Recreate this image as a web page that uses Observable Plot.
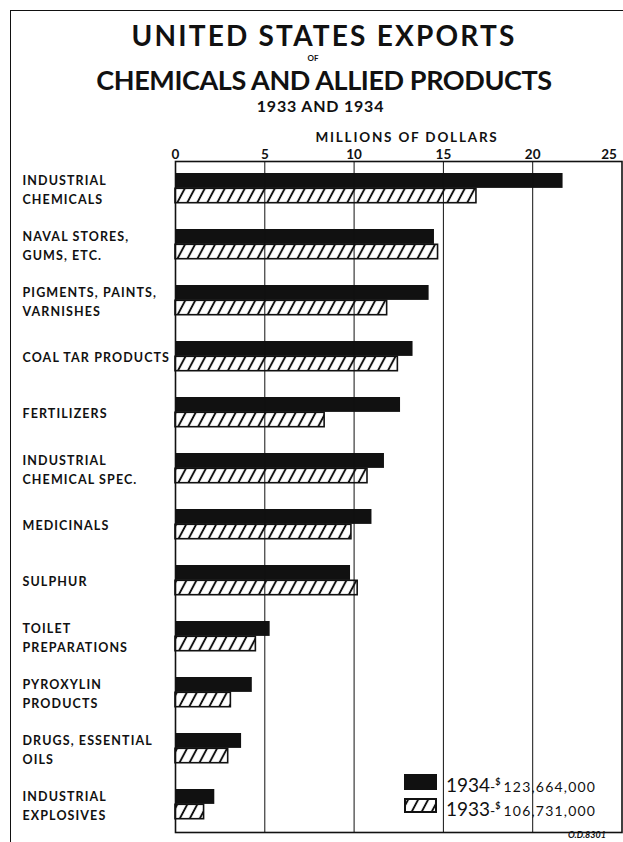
<!DOCTYPE html>
<html><head><meta charset="utf-8">
<script src="https://cdn.jsdelivr.net/npm/d3@7"></script>
<script src="https://cdn.jsdelivr.net/npm/@observablehq/plot@0.6"></script>
<style>
body{margin:0;background:#fff;}
#wrap{position:relative;width:623px;height:842px;overflow:hidden;font-family:Lato,"DejaVu Sans",sans-serif;font-weight:700;color:#111;background:#fff;}
.t{position:absolute;text-align:center;white-space:nowrap;}
#chart{position:absolute;left:0;top:0;}
.leg{position:absolute;white-space:nowrap;}
</style></head><body>
<div id="wrap">
  <div style="position:absolute;left:10px;top:10px;width:800px;height:900px;border-left:1.5px solid #111;border-top:1.5px solid #111;"></div>
  <div id="chart"></div>
  <div class="t" id="t1" style="left:0;width:648px;top:21px;font-size:28px;line-height:28px;letter-spacing:2.2px;">UNITED STATES EXPORTS</div>
  <div class="t" id="t0" style="left:263px;width:100px;top:54px;font-size:8px;line-height:8px;">OF</div>
  <div class="t" id="t2" style="left:0;width:648px;top:66px;font-size:27px;line-height:27px;letter-spacing:-0.4px;">CHEMICALS AND ALLIED PRODUCTS</div>
  <div class="t" id="t3" style="left:0;width:641px;top:98px;font-size:16px;line-height:16px;letter-spacing:0.8px;">1933 AND 1934</div>
  <div class="t" id="xl" style="left:257px;width:300px;top:131px;font-size:13.5px;line-height:13.5px;letter-spacing:1.8px;">MILLIONS OF DOLLARS</div>
  <div id="legend"></div>
  <div class="leg" style="left:568px;top:830px;font-size:9px;line-height:10px;font-style:italic;">O.D.8301</div>
</div>
<script>
const categories = [
  "INDUSTRIAL\nCHEMICALS",
  "NAVAL STORES,\nGUMS, ETC.",
  "PIGMENTS, PAINTS,\nVARNISHES",
  "COAL TAR PRODUCTS",
  "FERTILIZERS",
  "INDUSTRIAL\nCHEMICAL SPEC.",
  "MEDICINALS",
  "SULPHUR",
  "TOILET\nPREPARATIONS",
  "PYROXYLIN\nPRODUCTS",
  "DRUGS, ESSENTIAL\nOILS",
  "INDUSTRIAL\nEXPLOSIVES"
];
const values1934 = [21.7, 14.5, 14.2, 13.3, 12.6, 11.7, 11.0, 9.8, 5.3, 4.3, 3.7, 2.2];
const values1933 = [16.85, 14.7, 11.85, 12.45, 8.35, 10.75, 9.85, 10.2, 4.5, 3.1, 2.95, 1.6];
const xTicks = [0, 5, 10, 15, 20, 25];
const legendLabels = [
  {year: "1934", total: "123,664,000"},
  {year: "1933", total: "106,731,000"}
];

const d34 = categories.map((c, i) => ({category: c, value: values1934[i]}));
const d33 = categories.map((c, i) => ({category: c, value: values1933[i]}));

const ink = "#111";
const plot = Plot.plot({
  width: 623,
  height: 842,
  marginLeft: 175,
  marginRight: 1.5,
  marginTop: 161,
  marginBottom: 10,
  style: {fontFamily: "Lato, 'DejaVu Sans', sans-serif", fontWeight: 700, color: ink, background: "transparent"},
  x: {domain: [0, 25]},
  y: {domain: categories, paddingInner: 0.4626, paddingOuter: 0.2, align: 0.5},
  marks: [
    Plot.barX(d34, {x: "value", y: "category", fill: ink, insetBottom: 15.1}),
    Plot.barX(d33, {x: "value", y: "category", fill: "url(#hatch)", stroke: ink, strokeWidth: 1.6, insetTop: 15.3, insetBottom: 0.3}),
    Plot.gridX({ticks: [5, 10, 15, 20], stroke: ink, strokeOpacity: 1, strokeWidth: 1}),
    Plot.frame({stroke: ink, strokeWidth: 1.6}),
    Plot.axisX({anchor: "top", ticks: xTicks.slice(0, 5), tickSize: 0, tickPadding: 3, fontSize: 13.5, tickFormat: d => String(d), label: null}),
    Plot.axisX({anchor: "top", ticks: xTicks.slice(5), tickSize: 0, tickPadding: 3, fontSize: 13.5, dx: -13, tickFormat: d => String(d), label: null}),
    Plot.axisY({tickSize: 0, tickPadding: 0, textAnchor: "start", dx: -153, fontSize: 12.5, lineHeight: 1.48, label: null})
  ]
});
document.getElementById("chart").appendChild(plot);
d3.select(plot).selectAll("g[aria-label='y-axis tick label'] text").style("letter-spacing", "1.1px");

function addHatch(svgSel, id) {
  const defs = svgSel.insert("defs", ":first-child");
  const p = defs.append("pattern").attr("id", id).attr("patternUnits", "userSpaceOnUse")
    .attr("width", 10).attr("height", 10).attr("patternTransform", "skewX(-28)");
  p.append("rect").attr("width", 10).attr("height", 10).attr("fill", "#fff");
  p.append("line").attr("x1", 5).attr("x2", 5).attr("y1", -1).attr("y2", 11).attr("stroke", ink).attr("stroke-width", 2.2);
}
addHatch(d3.select(plot), "hatch");

// legend
const leg = d3.select("#legend");
const rowTops = [774, 798];
legendLabels.forEach((l, i) => {
  const sw = leg.append("svg").attr("class", "leg").attr("width", 34).attr("height", 17)
    .style("left", "404px").style("top", rowTops[i] + "px");
  if (i === 0) {
    sw.append("rect").attr("x", 0).attr("y", 0).attr("width", 33).attr("height", 16).attr("fill", ink);
  } else {
    addHatch(sw, "hatch2");
    sw.append("rect").attr("x", 1).attr("y", 1).attr("width", 31).attr("height", 13).attr("fill", "url(#hatch2)").attr("stroke", ink).attr("stroke-width", 2);
  }
  const t = leg.append("div").attr("class", "leg")
    .style("left", "446px").style("top", (rowTops[i] - 3) + "px")
    .style("font-size", "19px").style("line-height", "22px").style("font-weight", "400");
  t.append("span").text(l.year);
  t.append("span").style("font-size", "14px").text("-");
  t.append("span").style("font-size", "9px").style("font-weight", "700").style("vertical-align", "7px").text("$");
  t.append("span").style("font-size", "14px").style("letter-spacing", "1.2px").style("margin-left", "3px").text(l.total);
});
</script>
</body></html>
